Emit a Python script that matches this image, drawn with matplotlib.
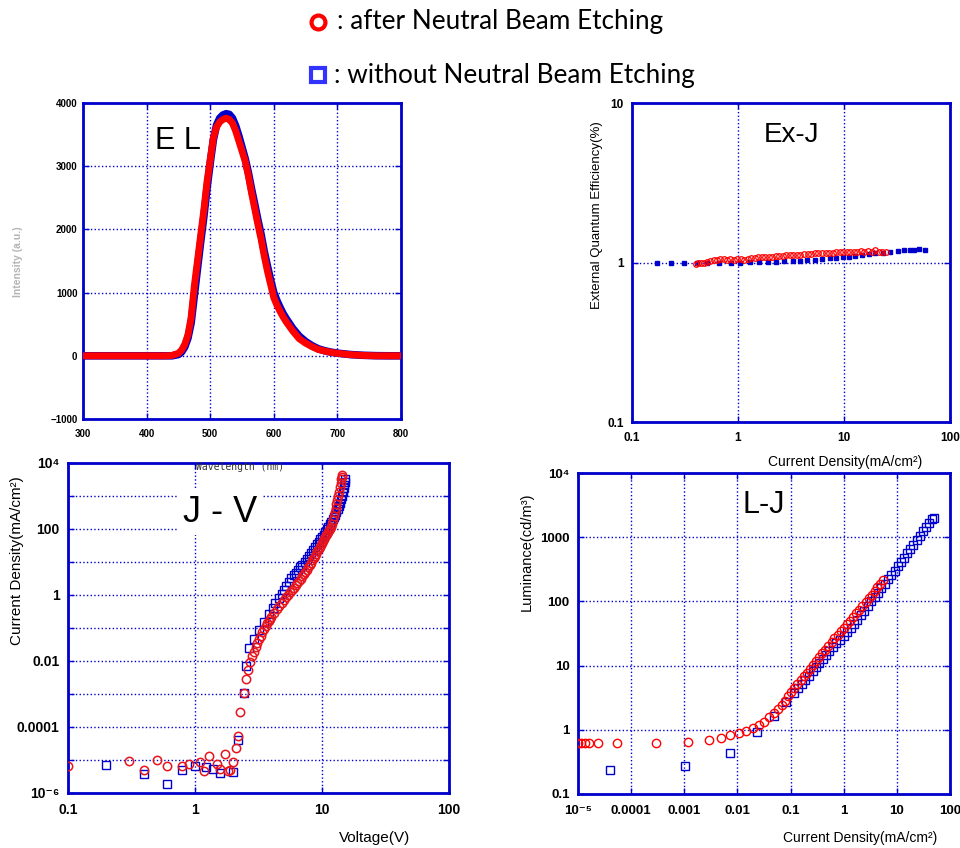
import matplotlib
matplotlib.use('Agg')
import matplotlib.pyplot as plt
from matplotlib.ticker import NullLocator

plt.rcParams['font.family'] = ['Liberation Sans', 'DejaVu Sans']

# ---- EL spectrum ----
el_wl_red = [300, 320, 340, 360, 380, 400, 420, 430, 440, 450, 455, 460, 465, 470, 475, 480, 485, 490,
             495, 500, 505, 510, 515, 520, 525, 530, 535, 540, 545, 550, 555, 560, 565, 570, 575, 580,
             585, 590, 595, 600, 605, 610, 615, 620, 630, 640, 650, 660, 670, 680, 690, 700, 720, 740,
             760, 780, 800]
el_red = [0, 0, 0, 0, 0, 0, 0, 0, 5, 40, 90, 180, 330, 600, 1100, 1500, 1900, 2300,
          2750, 3100, 3450, 3620, 3700, 3740, 3760, 3740, 3680, 3560, 3400, 3240, 3080, 2850, 2580, 2330, 2080, 1850,
          1580, 1340, 1130, 920, 800, 700, 610, 530, 390, 270, 200, 145, 100, 75, 55, 40, 18, 6,
          0, 0, 0]
el_wl_blue = el_wl_red
el_blue = [0, 0, 0, 0, 0, 0, 0, 0, 0, 20, 60, 140, 280, 520, 950, 1380, 1800, 2200,
           2650, 3050, 3420, 3650, 3760, 3810, 3830, 3820, 3760, 3640, 3480, 3300, 3120, 2900, 2640, 2400, 2150, 1920,
           1650, 1420, 1200, 1000, 870, 760, 660, 580, 430, 310, 225, 160, 110, 80, 58, 42, 20, 8,
           2, 0, 0]

# ---- EQE vs J ----
exj_j_blue = [0.172, 0.235, 0.312, 0.41, 0.51, 0.66, 0.85, 1.05, 1.31, 1.59, 1.91, 2.3, 2.74, 3.28, 3.87,
              4.48, 5.37, 6.2, 7.3, 8.47, 9.8, 11.1, 12.8, 14.8, 17.1, 19.8, 23.3, 27.4, 32.1, 36.6,
              41.7, 46.1, 51.4, 57.7]
exj_blue = [0.99, 0.99, 0.99, 0.99, 0.99, 1.0, 1.0, 1.0, 1.01, 1.01, 1.01, 1.01, 1.02, 1.02, 1.02,
            1.03, 1.04, 1.05, 1.06, 1.07, 1.08, 1.09, 1.1, 1.12, 1.13, 1.14, 1.15, 1.17, 1.18, 1.19,
            1.2, 1.2, 1.22, 1.19]
exj_j_red = [0.40, 0.42, 0.45, 0.48, 0.51, 0.55, 0.59, 0.63, 0.68, 0.73, 0.78, 0.84, 0.91, 0.98, 1.06,
             1.14, 1.23, 1.33, 1.44, 1.55, 1.67, 1.8, 1.95, 2.1, 2.27, 2.45, 2.65, 2.86, 3.08, 3.33,
             3.6, 3.88, 4.2, 4.53, 4.9, 5.3, 5.7, 6.2, 6.7, 7.2, 7.8, 8.4, 9.1, 9.8, 10.6, 11.5,
             12.4, 13.4, 14.5, 15.6, 16.9, 18.2, 19.7, 21.3, 23.0, 24.8]
exj_red = [0.98, 0.99, 0.99, 1.0, 1.01, 1.02, 1.03, 1.04, 1.05, 1.05, 1.04, 1.05, 1.04, 1.05, 1.05,
           1.04, 1.05, 1.06, 1.07, 1.08, 1.08, 1.09, 1.09, 1.09, 1.1, 1.1, 1.1, 1.11, 1.11, 1.12,
           1.12, 1.12, 1.13, 1.13, 1.13, 1.14, 1.14, 1.15, 1.15, 1.15, 1.15, 1.16, 1.16, 1.16, 1.17, 1.17,
           1.17, 1.17, 1.18, 1.17, 1.18, 1.17, 1.19, 1.16, 1.17, 1.17]

# ---- J-V ----
jv_v_red = [0.1, 0.3, 0.4, 0.5, 0.6, 0.79, 0.89, 1.1, 1.18, 1.3, 1.49, 1.56, 1.71, 1.82, 1.9, 2.0, 2.1,
            2.18, 2.26, 2.43, 2.52, 2.6, 2.7, 2.8, 2.9, 3.0, 3.1, 3.2, 3.3, 3.4, 3.5, 3.6, 3.7, 3.8,
            3.9, 4.0, 4.2, 4.4, 4.6, 4.8, 5.0, 5.2, 5.4, 5.6, 5.8, 6.0, 6.2, 6.4, 6.6, 6.8, 7.0, 7.2,
            7.4, 7.6, 7.8, 8.0, 8.2, 8.4, 8.6, 8.8, 9.0, 9.2, 9.4, 9.6, 9.8, 10.0, 10.2, 10.4, 10.6,
            10.8, 11.0, 11.2, 11.4, 11.6, 11.8, 12.0, 12.2, 12.4, 12.6, 12.8, 13.0, 13.2, 13.4, 13.6,
            13.8, 14.0, 14.2, 14.3, 14.4]
jv_red = [6.7e-6, 9.5e-6, 5.1e-6, 1.02e-5, 6.7e-6, 6.7e-6, 7.8e-6, 8.5e-6, 4.7e-6, 1.3e-5, 7.8e-6, 5.5e-6,
          1.48e-5, 4.7e-6, 5.1e-6, 8.9e-6, 2.3e-5, 5.3e-5, 2.8e-4, 1.04e-3, 2.8e-3, 5.5e-3, 0.0095, 0.014,
          0.019, 0.026, 0.034, 0.045, 0.058, 0.075, 0.095, 0.115, 0.14, 0.165, 0.19, 0.22, 0.29, 0.37,
          0.46, 0.57, 0.7, 0.84, 1.0, 1.2, 1.42, 1.66, 1.95, 2.3, 2.7, 3.15, 3.7, 4.3, 5.0, 5.9, 6.9,
          8.1, 9.5, 11.2, 13.2, 15.5, 18, 21, 24.5, 28.5, 33, 38, 44, 50, 57, 65, 73, 82, 91, 100, 118,
          145, 185, 240, 320, 430, 560, 740, 1000, 1350, 1850, 2500, 3300, 3800, 4300]
jv_v_blue = [0.2, 0.4, 0.6, 0.79, 1.0, 1.22, 1.38, 1.58, 2.0, 2.18, 2.43, 2.52, 2.68, 2.93, 3.22, 3.52,
             3.86, 4.1, 4.3, 4.55, 4.8, 5.0, 5.25, 5.5, 5.75, 6.0, 6.25, 6.5, 6.75, 7.0, 7.3, 7.6, 7.9,
             8.2, 8.5, 8.8, 9.1, 9.4, 9.7, 10.0, 10.3, 10.6, 10.9, 11.2, 11.5, 11.8, 12.1, 12.4, 12.7,
             13.0, 13.3, 13.6, 13.9, 14.2, 14.4, 14.6, 14.8, 15.0, 15.1, 15.2]
jv_blue = [7.2e-6, 3.8e-6, 1.9e-6, 5.1e-6, 6.7e-6, 6.0e-6, 5.5e-6, 4.0e-6, 4.4e-6, 4.0e-5, 1.04e-3, 0.007,
           0.024, 0.048, 0.085, 0.15, 0.27, 0.4, 0.57, 0.8, 1.1, 1.4, 1.9, 2.5, 3.2, 3.9, 4.7, 5.7, 6.9,
           8.3, 10, 12.5, 15.5, 19, 23, 28, 34, 41, 49, 58, 68, 82, 100, 118, 140, 165, 195, 230, 275,
           330, 400, 490, 620, 800, 1000, 1300, 1700, 2200, 2700, 3200]

# ---- L-J ----
lj_j_red = [1e-5, 1.16e-5, 1.33e-5, 1.59e-5, 2.34e-5, 5.4e-5, 2.97e-4, 1.15e-3, 2.9e-3, 4.9e-3, 7.3e-3,
            0.0105, 0.0146, 0.0195, 0.025, 0.032, 0.039, 0.048, 0.057, 0.068, 0.078, 0.09, 0.103, 0.118,
            0.135, 0.155, 0.178, 0.2, 0.23, 0.26, 0.3, 0.34, 0.39, 0.45, 0.51, 0.59, 0.67, 0.77, 0.88,
            1.0, 1.15, 1.32, 1.5, 1.72, 1.97, 2.25, 2.58, 2.95, 3.35, 3.8, 4.3, 4.9, 5.56]
lj_red = [0.62, 0.62, 0.62, 0.62, 0.62, 0.62, 0.62, 0.645, 0.69, 0.745, 0.83, 0.89, 0.97, 1.07, 1.19,
          1.34, 1.56, 1.83, 2.1, 2.43, 2.85, 3.35, 3.9, 4.5, 5.2, 6.0, 6.9, 7.8, 9.0, 10.3, 11.8, 13.5,
          15.5, 17.8, 20.3, 23.5, 26.8, 30.5, 34.5, 38.5, 44, 50, 57, 65, 74, 85, 97, 112, 127, 145, 165,
          190, 218]
lj_j_blue = [4.06e-5, 1.01e-3, 7.3e-3, 0.0232, 0.049, 0.082, 0.117, 0.14, 0.165, 0.19, 0.22, 0.26, 0.3,
             0.35, 0.4, 0.47, 0.54, 0.63, 0.73, 0.85, 1.0, 1.15, 1.35, 1.55, 1.8, 2.1, 2.45, 2.85, 3.3,
             3.8, 4.4, 5.1, 5.9, 6.8, 7.9, 9.1, 10.5, 12, 13.8, 15.8, 18, 20.5, 23.5, 27, 31, 35.5,
             40.5, 46, 50]
lj_blue = [0.24, 0.27, 0.435, 0.91, 1.62, 2.68, 3.8, 4.4, 5.2, 6.0, 7.0, 8.2, 9.5, 11, 12.6, 14.5, 16.8,
           19.5, 22.5, 25.5, 28.5, 33, 39, 45, 52, 61, 72, 85, 100, 117, 137, 160, 190, 222, 260, 300,
           350, 410, 480, 560, 650, 760, 900, 1050, 1230, 1430, 1680, 1920, 2000]

BLUE = '#0000cc'
RED = '#ff0000'
W, H = 960, 848

fig = plt.figure(figsize=(9.6, 8.48), dpi=100)


def box(l, t, r, b):
    return [l / W, 1 - b / H, (r - l) / W, (b - t) / H]


def style(ax, tick_size, xpad=7, ypad=6):
    for s in ax.spines.values():
        s.set_color(BLUE)
        s.set_linewidth(2)
    ax.grid(True, color=BLUE, linestyle=':', linewidth=1)
    ax.tick_params(which='both', direction='in', color=BLUE, length=4, width=1,
                   top=True, right=True, labelsize=tick_size)
    ax.tick_params(axis='x', pad=xpad)
    ax.tick_params(axis='y', pad=ypad)
    for lab in ax.get_xticklabels() + ax.get_yticklabels():
        lab.set_fontweight('bold')
    ax.xaxis.set_minor_locator(NullLocator())
    ax.yaxis.set_minor_locator(NullLocator())


# EL
ax1 = fig.add_axes(box(83, 103, 401, 419))
ax1.plot(el_wl_blue, el_blue, color=BLUE, lw=5.5, solid_capstyle='round', zorder=3)
ax1.plot(el_wl_red, el_red, color=RED, lw=5, solid_capstyle='round', zorder=4)
ax1.set_xlim(300, 800)
ax1.set_ylim(-1000, 4000)
ax1.set_xticks([300, 400, 500, 600, 700, 800])
ax1.set_yticks([-1000, 0, 1000, 2000, 3000, 4000])
ax1.set_yticklabels(['\u22121000', '0', '1000', '2000', '3000', '4000'])
style(ax1, 7, xpad=7, ypad=4)
ax1.text(0.3, 0.88, 'E L', transform=ax1.transAxes, ha='center', va='center',
         fontsize=22, zorder=5)
fig.text(18 / W, 1 - 262 / H, 'Intensity (a.u.)', rotation=90, ha='center', va='center',
         fontsize=7.5, color='#b4b4b4', fontweight='bold')
fig.text(240 / W, 1 - 467 / H, 'Wavelength (nm)', ha='center', va='center',
         fontsize=7, family='DejaVu Sans Mono', color='#333333')

# Ex-J
ax2 = fig.add_axes(box(632, 103, 950, 422))
ax2.set_xscale('log')
ax2.set_yscale('log')
ax2.plot(exj_j_blue, exj_blue, 's', color=BLUE, ms=3.5, zorder=3)
ax2.plot(exj_j_red, exj_red, 'o', mfc='none', mec=RED, ms=4, mew=0.9, zorder=4)
ax2.set_xlim(0.1, 100)
ax2.set_ylim(0.1, 10)
ax2.set_xticks([0.1, 1, 10, 100])
ax2.set_xticklabels(['0.1', '1', '10', '100'])
ax2.set_yticks([0.1, 1, 10])
ax2.set_yticklabels(['0.1', '1', '10'])
style(ax2, 8.5)
ax2.text(0.5, 0.9, 'Ex-J', transform=ax2.transAxes, ha='center', va='center', fontsize=20)
fig.text(597 / W, 1 - 215 / H, 'External Quantum Efficiency(%)', rotation=90, ha='center',
         va='center', fontsize=9.5)
fig.text(845 / W, 1 - 462 / H, 'Current Density(mA/cm\u00b2)', ha='center', va='center',
         fontsize=10)

# J-V
ax3 = fig.add_axes(box(68, 463, 449, 793))
ax3.set_xscale('log')
ax3.set_yscale('log')
ax3.plot(jv_v_blue, jv_blue, 's', mfc='none', mec=BLUE, ms=6, mew=1, zorder=3)
ax3.plot(jv_v_red, jv_red, 'o', mfc='none', mec='#e8141c', ms=6, mew=1.1, zorder=4)
ax3.set_xlim(0.1, 100)
ax3.set_ylim(1e-6, 1e4)
ax3.set_xticks([0.1, 1, 10, 100])
ax3.set_xticklabels(['0.1', '1', '10', '100'])
ax3.set_yticks([1e-6, 1e-5, 1e-4, 1e-3, 1e-2, 1e-1, 1, 10, 100, 1e3, 1e4])
ax3.set_yticklabels(['10\u207b\u2076', '', '0.0001', '', '0.01', '', '1', '', '100', '', '10\u2074'])
style(ax3, 10)
ax3.text(0.4, 0.85, 'J - V', transform=ax3.transAxes, ha='center', va='center',
         fontsize=26, zorder=5, bbox=dict(facecolor='white', edgecolor='none', pad=4))
fig.text(17 / W, 1 - 561 / H, 'Current Density(mA/cm\u00b2)', rotation=90, ha='center',
         va='center', fontsize=11)
fig.text(375 / W, 1 - 838 / H, 'Voltage(V)', ha='center', va='center', fontsize=11)

# L-J
ax4 = fig.add_axes(box(578, 473, 950, 794))
ax4.set_xscale('log')
ax4.set_yscale('log')
ax4.plot(lj_j_blue, lj_blue, 's', mfc='none', mec=BLUE, ms=6, mew=1, zorder=3)
ax4.plot(lj_j_red, lj_red, 'o', mfc='none', mec=RED, ms=6, mew=1, zorder=4)
ax4.set_xlim(1e-5, 100)
ax4.set_ylim(0.1, 1e4)
ax4.set_xticks([1e-5, 1e-4, 1e-3, 1e-2, 0.1, 1, 10, 100])
ax4.set_xticklabels(['10\u207b\u2075', '0.0001', '0.001', '0.01', '0.1', '1', '10', '100'])
ax4.set_yticks([0.1, 1, 10, 100, 1000, 1e4])
ax4.set_yticklabels(['0.1', '1', '10', '100', '1000', '10\u2074'])
style(ax4, 9.5, xpad=8)
ax4.text(0.5, 0.9, 'L-J', transform=ax4.transAxes, ha='center', va='center', fontsize=22)
fig.text(527 / W, 1 - 552 / H, 'Luminance(cd/m\u00b3)', rotation=90, ha='center',
         va='center', fontsize=10.5)
fig.text(860 / W, 1 - 838 / H, 'Current Density(mA/cm\u00b2)', ha='center', va='center',
         fontsize=10)

# legend at top
fig.lines.append(plt.Line2D([318 / W], [1 - 22 / H], transform=fig.transFigure, marker='o',
                            ms=10, mfc='white', mec=RED, mew=3, ls='none'))
fig.lines.append(plt.Line2D([318 / W], [1 - 75 / H], transform=fig.transFigure, marker='s',
                            ms=10, mfc='white', mec='#3333ff', mew=3, ls='none'))
fig.text(337 / W, 1 - 22 / H, ': after Neutral Beam Etching', ha='left', va='center',
         fontsize=18.8, family='Lato')
fig.text(334 / W, 1 - 75 / H, ': without Neutral Beam Etching', ha='left', va='center',
         fontsize=18.8, family='Lato')

fig.savefig('out.png', dpi=100)
